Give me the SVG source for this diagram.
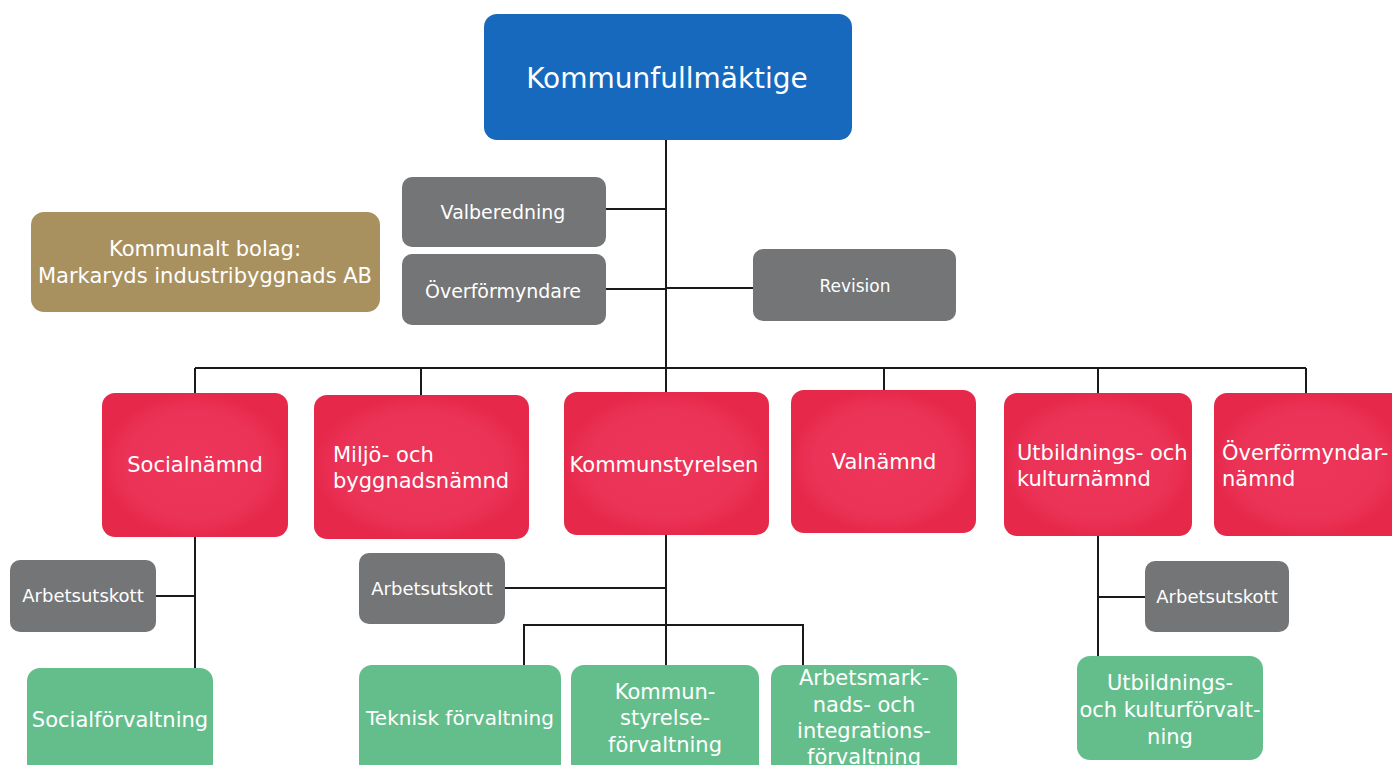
<svg xmlns="http://www.w3.org/2000/svg" width="1392" height="765" viewBox="0 0 1392 765">
<style>
.t{font-family:"DejaVu Sans","Liberation Sans",Arial,sans-serif;fill:#ffffff;}
.blue{fill:#1769bd;}
.red{fill:url(#rg);}
.gray{fill:#737577;}
.green{fill:#64be8c;}
.gold{fill:#a8915f;}
.ln{stroke:#1a1a1a;stroke-width:2;fill:none;}
</style>
<defs>
<radialGradient id="rg" cx="0.5" cy="0.5" r="0.5">
<stop offset="0" stop-color="#ec3559"/>
<stop offset="0.75" stop-color="#eb3357"/>
<stop offset="1" stop-color="#e6294b"/>
</radialGradient>
</defs>
<rect width="1392" height="765" fill="#ffffff"/>
<g id="connectors">
<path class="ln" d="M666 140 V665"/>
<path class="ln" d="M606 209 H666"/>
<path class="ln" d="M606 289 H666"/>
<path class="ln" d="M666 288 H753"/>
<path class="ln" d="M195 368 H1306"/>
<path class="ln" d="M195 368 V393 M421 368 V395 M884 368 V390 M1098 368 V393 M1306 368 V393"/>
<path class="ln" d="M195 537 V668 M156 596 H195"/>
<path class="ln" d="M505 588 H666"/>
<path class="ln" d="M524 665 V625 H803 V665"/>
<path class="ln" d="M1098 536 V657 M1098 597 H1145"/>
</g>
<g id="kommunfullmaktige">
<rect class="blue" x="484" y="14" width="368" height="126" rx="13"/>
<text class="t" x="667" y="88" font-size="28" text-anchor="middle">Kommunfullmäktige</text>
</g>
<g id="kommunalt-bolag">
<rect class="gold" x="31" y="212" width="349" height="100" rx="13"/>
<text class="t" x="205" y="256" font-size="21" text-anchor="middle">Kommunalt bolag:</text>
<text class="t" x="205" y="283" font-size="21" text-anchor="middle">Markaryds industribyggnads AB</text>
</g>
<g id="valberedning">
<rect class="gray" x="402" y="177" width="204" height="70" rx="10"/>
<text class="t" x="503" y="219" font-size="19" text-anchor="middle">Valberedning</text>
</g>
<g id="overformyndare">
<rect class="gray" x="402" y="254" width="204" height="71" rx="10"/>
<text class="t" x="503" y="298" font-size="19" text-anchor="middle">Överförmyndare</text>
</g>
<g id="revision">
<rect class="gray" x="753" y="249" width="203" height="72" rx="10"/>
<text class="t" x="855" y="292" font-size="17" text-anchor="middle">Revision</text>
</g>
<g id="socialnamnd">
<rect class="red" x="102" y="393" width="186" height="144" rx="13"/>
<text class="t" x="195" y="472" font-size="21" text-anchor="middle">Socialnämnd</text>
</g>
<g id="miljo">
<rect class="red" x="314" y="395" width="215" height="144" rx="13"/>
<text class="t" x="333" y="462" font-size="21">Miljö- och</text>
<text class="t" x="333" y="488" font-size="21">byggnadsnämnd</text>
</g>
<g id="kommunstyrelsen">
<rect class="red" x="564" y="392" width="205" height="143" rx="13"/>
<text class="t" x="664" y="472" font-size="21" text-anchor="middle">Kommunstyrelsen</text>
</g>
<g id="valnamnd">
<rect class="red" x="791" y="390" width="185" height="143" rx="13"/>
<text class="t" x="884" y="469" font-size="21" text-anchor="middle">Valnämnd</text>
</g>
<g id="utbildningsnamnd">
<rect class="red" x="1004" y="393" width="188" height="143" rx="13"/>
<text class="t" x="1017" y="460" font-size="21">Utbildnings- och</text>
<text class="t" x="1017" y="486" font-size="21">kulturnämnd</text>
</g>
<g id="overformyndarnamnd">
<rect class="red" x="1214" y="393" width="190" height="143" rx="13"/>
<text class="t" x="1222" y="460" font-size="21">Överförmyndar-</text>
<text class="t" x="1222" y="486" font-size="21">nämnd</text>
</g>
<g id="arbetsutskott-social">
<rect class="gray" x="10" y="560" width="146" height="72" rx="10"/>
<text class="t" x="83" y="602" font-size="18" text-anchor="middle">Arbetsutskott</text>
</g>
<g id="arbetsutskott-ks">
<rect class="gray" x="359" y="553" width="146" height="71" rx="10"/>
<text class="t" x="432" y="595" font-size="18" text-anchor="middle">Arbetsutskott</text>
</g>
<g id="arbetsutskott-utb">
<rect class="gray" x="1145" y="561" width="144" height="71" rx="10"/>
<text class="t" x="1217" y="603" font-size="18" text-anchor="middle">Arbetsutskott</text>
</g>
<g id="socialforvaltning">
<rect class="green" x="27" y="668" width="186" height="110" rx="13"/>
<text class="t" x="120" y="727" font-size="21" text-anchor="middle">Socialförvaltning</text>
</g>
<g id="teknisk">
<rect class="green" x="359" y="665" width="202" height="113" rx="13"/>
<text class="t" x="460" y="725" font-size="20" text-anchor="middle">Teknisk förvaltning</text>
</g>
<g id="ksforvaltning">
<rect class="green" x="571" y="665" width="188" height="113" rx="13"/>
<text class="t" x="665" y="699" font-size="21" text-anchor="middle">Kommun-</text>
<text class="t" x="665" y="725" font-size="21" text-anchor="middle">styrelse-</text>
<text class="t" x="665" y="752" font-size="21" text-anchor="middle">förvaltning</text>
</g>
<g id="arbetsmarknad">
<rect class="green" x="771" y="665" width="186" height="113" rx="13"/>
<text class="t" x="864" y="685" font-size="21" text-anchor="middle">Arbetsmark-</text>
<text class="t" x="864" y="712" font-size="21" text-anchor="middle">nads- och</text>
<text class="t" x="864" y="738" font-size="21" text-anchor="middle">integrations-</text>
<text class="t" x="864" y="764" font-size="21" text-anchor="middle">förvaltning</text>
</g>
<g id="utbildningsforvaltning">
<rect class="green" x="1077" y="656" width="186" height="104" rx="13"/>
<text class="t" x="1170" y="690" font-size="21" text-anchor="middle">Utbildnings-</text>
<text class="t" x="1170" y="717" font-size="21" text-anchor="middle">och kulturförvalt-</text>
<text class="t" x="1170" y="744" font-size="21" text-anchor="middle">ning</text>
</g>
</svg>
